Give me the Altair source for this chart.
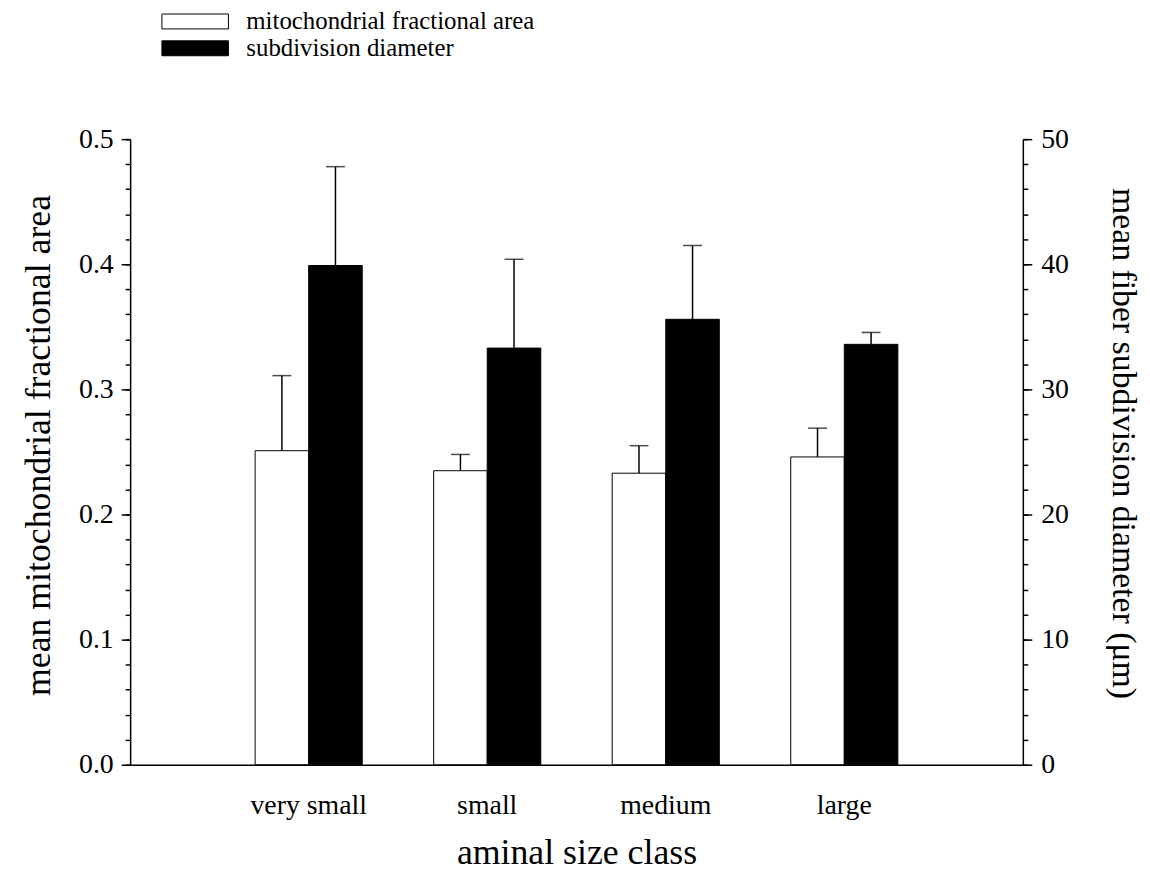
import altair as alt
import pandas as pd

categories = ["very small", "small", "medium", "large"]
series = ["mitochondrial fractional area", "subdivision diameter"]
mito_mean = [0.251, 0.235, 0.233, 0.246]
mito_se = [0.060, 0.013, 0.022, 0.023]
diam_mean = [39.9, 33.3, 35.6, 33.6]
diam_se = [7.9, 7.1, 5.9, 0.95]
left_ticks = [0.0, 0.1, 0.2, 0.3, 0.4, 0.5]
left_minor = [round(i * 0.02, 2) for i in range(26)]
right_ticks = [0, 10, 20, 30, 40, 50]
right_minor = list(range(0, 51, 2))

FONT = "Liberation Serif"
TICK_FS = 28

mito = pd.DataFrame({
    "cat": categories,
    "series": series[0],
    "mean": mito_mean,
    "hi": [m + s for m, s in zip(mito_mean, mito_se)],
})
diam = pd.DataFrame({
    "cat": categories,
    "series": series[1],
    "mean": diam_mean,
    "hi": [m + s for m, s in zip(diam_mean, diam_se)],
})

x = alt.X(
    "cat:N",
    sort=categories,
    scale=alt.Scale(domain=categories, paddingInner=0.4, paddingOuter=0.7),
    axis=alt.Axis(
        title="aminal size class", labelAngle=0, ticks=False, labelPadding=27,
        labelFontSize=TICK_FS, titleFontSize=36, titlePadding=16,
        domainWidth=1.5, domainColor="black",
    ),
)
xo = alt.XOffset("series:N", scale=alt.Scale(domain=series, paddingInner=0, paddingOuter=0))

legend = alt.Legend(
    orient="none", legendX=53, legendY=-131, title=None,
    symbolType="M-4.467,-1L4.467,-1L4.467,1L-4.467,1Z", symbolSize=225,
    symbolStrokeColor="black", symbolStrokeWidth=1,
    labelFont=FONT, labelFontSize=25, labelColor="black", labelOffset=39,
    rowPadding=1, labelLimit=600, padding=0,
)
fill = alt.Fill("series:N", scale=alt.Scale(domain=series, range=["white", "black"]), legend=legend)

yl_scale = alt.Scale(domain=[0, 0.5], nice=False, zero=True)
yr_scale = alt.Scale(domain=[0, 50], nice=False, zero=True)

left_axis = alt.Axis(
    orient="left", values=left_ticks, format=".1f", tickSize=9, tickWidth=1.5,
    domainWidth=1.5, labelFontSize=TICK_FS, labelPadding=8,
    title="mean mitochondrial fractional area", titleFontSize=36, titlePadding=21,
    titleY=308,
)
right_axis = alt.Axis(
    orient="right", values=right_ticks, format="d", tickSize=9, tickWidth=1.5,
    domainWidth=1.5, labelFontSize=TICK_FS, labelPadding=9,
    title="mean fiber subdivision diameter (μm)", titleFontSize=34, titlePadding=37,
    titleY=306,
)

left_bars = alt.Chart(mito).mark_bar(stroke="black", strokeWidth=1).encode(
    x=x, xOffset=xo, y=alt.Y("mean:Q", scale=yl_scale, axis=left_axis), fill=fill
)
left_rules = alt.Chart(mito).mark_rule(color="black", strokeWidth=1.5).encode(
    x=x, xOffset=xo, y=alt.Y("mean:Q"), y2="hi:Q"
)
left_caps = alt.Chart(mito).mark_tick(color="black", thickness=1.5, size=19, orient="horizontal").encode(
    x=x, xOffset=xo, y=alt.Y("hi:Q")
)
left = alt.layer(left_rules, left_caps, left_bars)

right_bars = alt.Chart(diam).mark_bar(stroke="black", strokeWidth=1).encode(
    x=x, xOffset=xo, y=alt.Y("mean:Q", scale=yr_scale, axis=right_axis), fill=fill
)
right_rules = alt.Chart(diam).mark_rule(color="black", strokeWidth=1.5).encode(
    x=x, xOffset=xo, y=alt.Y("mean:Q"), y2="hi:Q"
)
right_caps = alt.Chart(diam).mark_tick(color="black", thickness=1.5, size=19, orient="horizontal").encode(
    x=x, xOffset=xo, y=alt.Y("hi:Q")
)
right = alt.layer(right_rules, right_caps, right_bars)

left_minor_layer = alt.Chart(mito).mark_rule(opacity=0).encode(
    y=alt.Y("mean:Q", scale=yl_scale, axis=alt.Axis(
        orient="left", values=left_minor, labels=False, domain=False, tickSize=5,
        tickWidth=1.5, title=None, grid=False)),
)
right_minor_layer = alt.Chart(diam).mark_rule(opacity=0).encode(
    y=alt.Y("mean:Q", scale=yr_scale, axis=alt.Axis(
        orient="right", values=right_minor, labels=False, domain=False, tickSize=5,
        tickWidth=1.5, title=None, grid=False)),
)

chart = alt.layer(left, right, left_minor_layer, right_minor_layer).resolve_scale(
    y="independent"
).properties(
    width=899, height=630,
    autosize=alt.AutoSizeParams(type="none"),
    padding={"left": 123, "top": 129, "right": 120, "bottom": 112},
).configure_view(stroke=None).configure_axis(
    labelFont=FONT, titleFont=FONT, labelColor="black", titleColor="black",
    domainColor="black", tickColor="black", titleFontWeight="normal", grid=False,
)

chart.save("out.html", embed_options={"renderer": "svg", "actions": False})
